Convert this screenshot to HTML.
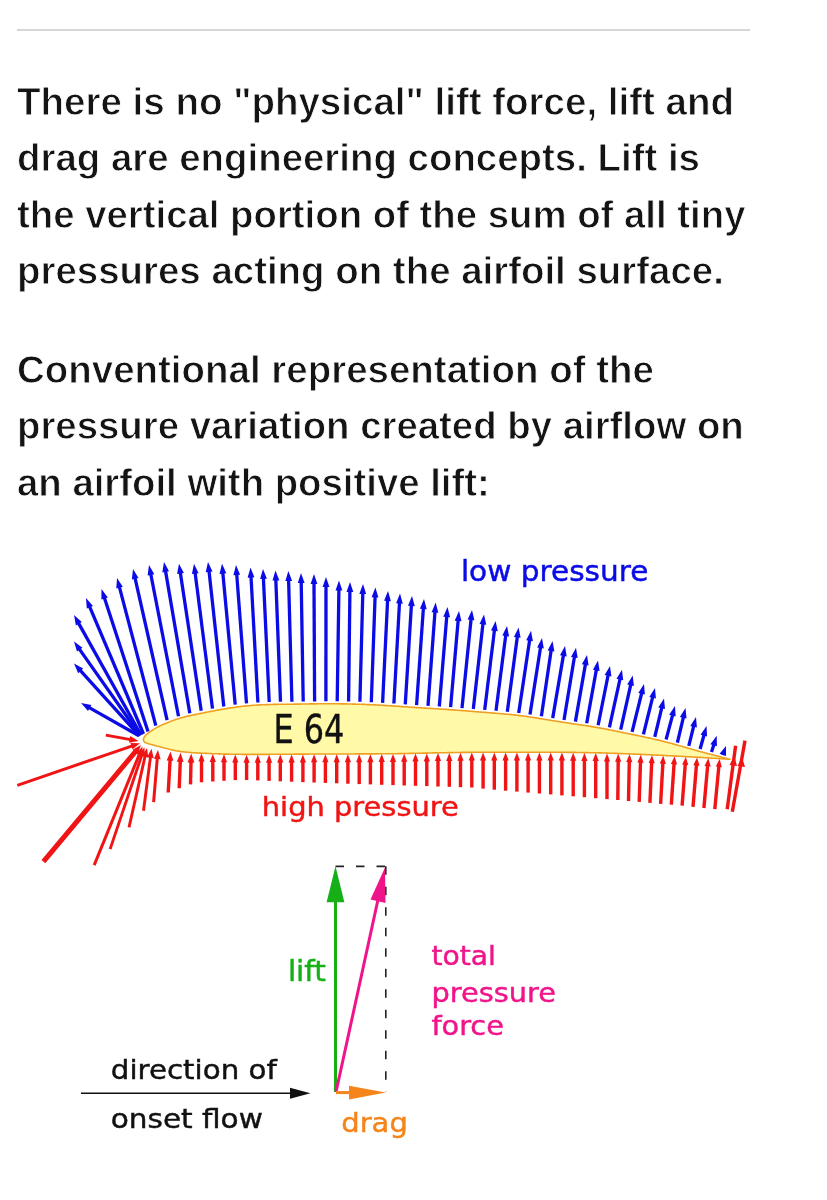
<!DOCTYPE html>
<html><head><meta charset="utf-8"><title>Lift</title>
<style>
html,body{margin:0;padding:0;background:#fff}
body{width:827px;height:1200px;position:relative;overflow:hidden;font-family:"Liberation Sans",sans-serif}
.hr{position:absolute;left:17px;top:28.6px;width:733px;height:2.4px;background:#d6d6d6}
.ln{position:absolute;left:17.1px;white-space:nowrap;font-size:38.2px;font-weight:bold;line-height:56.5px;height:56.5px;color:#141414;
 letter-spacing:0.0px;transform-origin:0 50%;will-change:transform;-webkit-text-stroke:0.85px #fff;}
svg{position:absolute;left:0;top:0}
svg text{font-family:"DejaVu Sans","Liberation Sans",sans-serif}
</style></head><body>
<div class="hr"></div>
<div class="ln" style="top:73.5px;transform:scaleX(1.0085)">There is no &quot;physical&quot; lift force, lift and</div>
<div class="ln" style="top:130.0px;transform:scaleX(1.0057)">drag are engineering concepts. Lift is</div>
<div class="ln" style="top:186.5px;transform:scaleX(1.0039)">the vertical portion of the sum of all tiny</div>
<div class="ln" style="top:243.0px;transform:scaleX(1.0063)">pressures acting on the airfoil surface.</div>
<div class="ln" style="top:341.6px;transform:scaleX(1.0073)">Conventional representation of the</div>
<div class="ln" style="top:398.1px;transform:scaleX(1.0043)">pressure variation created by airflow on</div>
<div class="ln" style="top:454.6px;transform:scaleX(1.0038)">an airfoil with positive lift:</div>
<svg width="827" height="1200" viewBox="0 0 827 1200">
<path d="M143.3 739.8 L143.6 738.8 L143.9 737.9 L144.3 737.0 L144.9 736.2 L145.6 735.4 L146.3 734.7 L147.1 734.0 L147.8 733.4 L148.6 732.8 L149.4 732.2 L150.2 731.6 L151.1 731.1 L151.9 730.5 L152.8 730.0 L153.6 729.4 L154.5 728.9 L155.3 728.4 L156.2 727.9 L157.1 727.4 L157.9 726.9 L158.8 726.5 L159.7 726.0 L160.6 725.6 L161.5 725.1 L162.4 724.7 L163.4 724.3 L164.3 723.9 L165.2 723.5 L166.1 723.2 L167.1 722.8 L168.0 722.4 L168.9 722.0 L169.9 721.7 L170.8 721.3 L171.7 721.0 L172.7 720.6 L173.6 720.3 L174.6 719.9 L175.5 719.6 L176.5 719.3 L177.4 719.0 L178.4 718.7 L179.3 718.4 L180.3 718.1 L181.3 717.8 L182.2 717.6 L183.2 717.3 L184.2 717.1 L185.1 716.8 L186.1 716.6 L187.1 716.3 L188.0 716.1 L189.0 715.9 L190.0 715.6 L191.0 715.4 L192.0 715.2 L192.9 715.0 L193.9 714.8 L194.9 714.6 L195.9 714.4 L196.9 714.2 L197.8 714.0 L198.8 713.8 L199.8 713.6 L200.8 713.4 L201.8 713.2 L202.8 713.0 L203.7 712.8 L204.7 712.6 L205.7 712.4 L206.7 712.2 L207.7 712.0 L208.7 711.8 L209.6 711.6 L210.6 711.4 L211.6 711.2 L212.6 711.0 L213.6 710.9 L214.6 710.7 L215.5 710.5 L216.5 710.3 L217.5 710.1 L218.5 709.9 L219.5 709.8 L220.5 709.6 L221.5 709.4 L222.4 709.2 L223.4 709.1 L224.4 708.9 L225.4 708.7 L226.4 708.6 L227.4 708.4 L228.4 708.2 L229.4 708.1 L230.4 707.9 L231.3 707.8 L232.3 707.6 L233.3 707.5 L234.3 707.4 L235.3 707.2 L236.3 707.1 L237.3 706.9 L238.3 706.8 L239.3 706.7 L240.3 706.6 L241.3 706.5 L242.3 706.3 L243.3 706.2 L244.3 706.1 L245.3 706.0 L246.3 705.9 L247.3 705.8 L248.3 705.7 L249.3 705.7 L250.2 705.6 L251.2 705.5 L252.2 705.4 L253.2 705.3 L254.2 705.3 L255.2 705.2 L256.2 705.1 L257.2 705.1 L258.2 705.0 L259.2 704.9 L260.2 704.9 L261.2 704.8 L262.2 704.8 L263.2 704.7 L264.3 704.7 L265.3 704.7 L266.3 704.6 L267.3 704.6 L268.3 704.6 L269.3 704.5 L270.3 704.5 L271.3 704.5 L272.3 704.5 L273.3 704.4 L274.3 704.4 L275.3 704.4 L276.3 704.4 L277.3 704.4 L278.3 704.3 L279.3 704.3 L280.3 704.3 L281.3 704.3 L282.3 704.3 L283.3 704.3 L284.3 704.3 L285.3 704.3 L286.3 704.2 L287.3 704.2 L288.3 704.2 L289.3 704.2 L290.3 704.2 L291.3 704.2 L292.3 704.2 L293.3 704.2 L294.3 704.1 L295.3 704.1 L296.3 704.1 L297.3 704.1 L298.3 704.1 L299.3 704.1 L300.3 704.1 L301.3 704.0 L302.3 704.0 L303.3 704.0 L304.3 704.0 L305.3 704.0 L306.3 704.0 L307.3 704.0 L308.3 704.0 L309.3 703.9 L310.3 703.9 L311.3 703.9 L312.3 703.9 L313.3 703.9 L314.3 703.9 L315.3 703.9 L316.3 703.9 L317.3 703.8 L318.3 703.8 L319.4 703.8 L320.4 703.8 L321.4 703.8 L322.4 703.8 L323.4 703.8 L324.4 703.8 L325.4 703.8 L326.4 703.8 L327.4 703.8 L328.4 703.8 L329.4 703.8 L330.4 703.8 L331.4 703.8 L332.4 703.8 L333.4 703.8 L334.4 703.8 L335.4 703.8 L336.4 703.8 L337.4 703.8 L338.4 703.8 L339.4 703.8 L340.4 703.9 L341.4 703.9 L342.4 703.9 L343.4 703.9 L344.4 703.9 L345.4 703.9 L346.4 703.9 L347.4 704.0 L348.4 704.0 L349.4 704.0 L350.4 704.0 L351.4 704.0 L352.4 704.1 L353.4 704.1 L354.4 704.1 L355.4 704.1 L356.4 704.2 L357.4 704.2 L358.4 704.2 L359.4 704.3 L360.4 704.3 L361.4 704.3 L362.4 704.4 L363.4 704.4 L364.4 704.4 L365.4 704.5 L366.4 704.5 L367.4 704.6 L368.4 704.6 L369.4 704.6 L370.4 704.7 L371.4 704.7 L372.4 704.8 L373.4 704.8 L374.4 704.9 L375.4 704.9 L376.4 705.0 L377.4 705.0 L378.4 705.1 L379.4 705.1 L380.4 705.2 L381.4 705.3 L382.4 705.3 L383.4 705.4 L384.4 705.4 L385.4 705.5 L386.4 705.6 L387.4 705.6 L388.4 705.7 L389.4 705.7 L390.4 705.8 L391.4 705.9 L392.4 705.9 L393.4 706.0 L394.4 706.1 L395.4 706.1 L396.4 706.2 L397.4 706.3 L398.4 706.3 L399.4 706.4 L400.4 706.5 L401.4 706.6 L402.4 706.6 L403.4 706.7 L404.4 706.8 L405.4 706.8 L406.4 706.9 L407.4 707.0 L408.4 707.0 L409.4 707.1 L410.4 707.2 L411.4 707.2 L412.4 707.3 L413.4 707.4 L414.4 707.4 L415.4 707.5 L416.4 707.6 L417.4 707.6 L418.4 707.7 L419.4 707.8 L420.4 707.8 L421.4 707.9 L422.4 708.0 L423.4 708.0 L424.4 708.1 L425.4 708.1 L426.4 708.2 L427.4 708.3 L428.4 708.3 L429.4 708.4 L430.4 708.4 L431.4 708.5 L432.4 708.5 L433.4 708.6 L434.4 708.7 L435.4 708.7 L436.4 708.8 L437.4 708.8 L438.4 708.9 L439.4 709.0 L440.4 709.0 L441.4 709.1 L442.4 709.2 L443.4 709.2 L444.4 709.3 L445.4 709.4 L446.4 709.4 L447.4 709.5 L448.4 709.6 L449.4 709.6 L450.4 709.7 L451.4 709.8 L452.4 709.9 L453.4 709.9 L454.4 710.0 L455.4 710.1 L456.4 710.2 L457.4 710.2 L458.4 710.3 L459.4 710.4 L460.4 710.5 L461.4 710.5 L462.4 710.6 L463.4 710.7 L464.4 710.8 L465.4 710.8 L466.4 710.9 L467.4 711.0 L468.4 711.1 L469.4 711.2 L470.4 711.2 L471.4 711.3 L472.4 711.4 L473.4 711.5 L474.4 711.6 L475.4 711.6 L476.4 711.7 L477.4 711.8 L478.4 711.9 L479.4 712.0 L480.4 712.0 L481.4 712.1 L482.4 712.2 L483.4 712.3 L484.4 712.3 L485.4 712.4 L486.4 712.5 L487.4 712.6 L488.4 712.7 L489.4 712.7 L490.4 712.8 L491.4 712.9 L492.4 713.0 L493.4 713.1 L494.4 713.1 L495.4 713.2 L496.4 713.3 L497.4 713.4 L498.4 713.5 L499.4 713.5 L500.4 713.6 L501.4 713.7 L502.4 713.8 L503.4 713.9 L504.4 714.0 L505.4 714.1 L506.4 714.2 L507.4 714.3 L508.4 714.3 L509.4 714.4 L510.4 714.5 L511.4 714.6 L512.4 714.7 L513.3 714.8 L514.3 714.9 L515.3 715.1 L516.3 715.2 L517.3 715.3 L518.3 715.4 L519.3 715.5 L520.3 715.6 L521.3 715.8 L522.3 715.9 L523.3 716.0 L524.3 716.2 L525.3 716.3 L526.3 716.4 L527.3 716.6 L528.3 716.7 L529.2 716.9 L530.2 717.0 L531.2 717.2 L532.2 717.3 L533.2 717.5 L534.2 717.6 L535.2 717.8 L536.2 717.9 L537.2 718.1 L538.2 718.2 L539.1 718.4 L540.1 718.6 L541.1 718.7 L542.1 718.9 L543.1 719.0 L544.1 719.2 L545.1 719.4 L546.1 719.5 L547.1 719.7 L548.0 719.9 L549.0 720.0 L550.0 720.2 L551.0 720.3 L552.0 720.5 L553.0 720.7 L554.0 720.8 L555.0 721.0 L556.0 721.2 L556.9 721.3 L557.9 721.5 L558.9 721.6 L559.9 721.8 L560.9 721.9 L561.9 722.1 L562.9 722.2 L563.9 722.4 L564.9 722.5 L565.9 722.7 L566.9 722.8 L567.8 723.0 L568.8 723.1 L569.8 723.3 L570.8 723.4 L571.8 723.6 L572.8 723.7 L573.8 723.9 L574.8 724.0 L575.8 724.2 L576.8 724.3 L577.8 724.5 L578.8 724.6 L579.7 724.7 L580.7 724.9 L581.7 725.0 L582.7 725.2 L583.7 725.3 L584.7 725.5 L585.7 725.6 L586.7 725.8 L587.7 725.9 L588.7 726.1 L589.6 726.3 L590.6 726.4 L591.6 726.6 L592.6 726.7 L593.6 726.9 L594.6 727.1 L595.6 727.2 L596.6 727.4 L597.6 727.6 L598.5 727.7 L599.5 727.9 L600.5 728.1 L601.5 728.3 L602.5 728.5 L603.5 728.6 L604.4 728.8 L605.4 729.0 L606.4 729.2 L607.4 729.4 L608.4 729.6 L609.4 729.8 L610.3 730.0 L611.3 730.2 L612.3 730.4 L613.3 730.6 L614.3 730.8 L615.3 731.0 L616.2 731.2 L617.2 731.4 L618.2 731.6 L619.2 731.8 L620.2 732.0 L621.1 732.2 L622.1 732.4 L623.1 732.6 L624.1 732.8 L625.1 733.0 L626.1 733.2 L627.0 733.4 L628.0 733.6 L629.0 733.8 L630.0 734.0 L631.0 734.2 L631.9 734.4 L632.9 734.6 L633.9 734.8 L634.9 735.0 L635.9 735.2 L636.9 735.4 L637.8 735.6 L638.8 735.8 L639.8 736.0 L640.8 736.2 L641.8 736.4 L642.7 736.6 L643.7 736.8 L644.7 737.1 L645.7 737.3 L646.7 737.5 L647.6 737.7 L648.6 737.9 L649.6 738.1 L650.6 738.3 L651.6 738.5 L652.5 738.8 L653.5 739.0 L654.5 739.2 L655.5 739.4 L656.4 739.7 L657.4 739.9 L658.4 740.1 L659.4 740.3 L660.3 740.6 L661.3 740.8 L662.3 741.1 L663.3 741.3 L664.2 741.6 L665.2 741.8 L666.2 742.1 L667.1 742.3 L668.1 742.6 L669.1 742.8 L670.0 743.1 L671.0 743.3 L672.0 743.6 L672.9 743.9 L673.9 744.1 L674.9 744.4 L675.8 744.7 L676.8 744.9 L677.8 745.2 L678.7 745.5 L679.7 745.7 L680.7 746.0 L681.6 746.3 L682.6 746.5 L683.6 746.8 L684.5 747.1 L685.5 747.4 L686.4 747.6 L687.4 747.9 L688.4 748.2 L689.3 748.5 L690.3 748.7 L691.3 749.0 L692.2 749.3 L693.2 749.6 L694.2 749.8 L695.1 750.1 L696.1 750.4 L697.1 750.7 L698.0 750.9 L699.0 751.2 L699.9 751.5 L700.9 751.7 L701.9 752.0 L702.8 752.3 L703.8 752.5 L704.8 752.8 L705.7 753.0 L706.7 753.3 L707.7 753.6 L708.7 753.8 L709.6 754.1 L710.6 754.3 L711.6 754.6 L712.5 754.8 L713.5 755.1 L714.5 755.3 L715.4 755.6 L716.4 755.8 L717.4 756.1 L718.3 756.3 L719.3 756.6 L720.3 756.8 L721.3 757.1 L722.2 757.3 L723.2 757.6 L724.2 757.8 L725.1 758.1 L726.1 758.3 L727.1 758.6 L728.1 758.8 L729.0 759.1 L730.0 759.3 L730.0 759.3 L729.0 759.2 L728.0 759.2 L727.1 759.1 L726.1 759.0 L725.1 759.0 L724.1 758.9 L723.1 758.9 L722.1 758.8 L721.2 758.7 L720.2 758.7 L719.2 758.6 L718.2 758.5 L717.2 758.5 L716.2 758.4 L715.3 758.3 L714.3 758.3 L713.3 758.2 L712.3 758.2 L711.3 758.1 L710.4 758.0 L709.4 758.0 L708.4 757.9 L707.4 757.9 L706.4 757.8 L705.4 757.7 L704.5 757.7 L703.5 757.6 L702.5 757.5 L701.5 757.5 L700.5 757.4 L699.5 757.4 L698.6 757.3 L697.6 757.3 L696.6 757.2 L695.6 757.1 L694.6 757.1 L693.7 757.0 L692.7 757.0 L691.7 756.9 L690.7 756.9 L689.7 756.8 L688.7 756.8 L687.8 756.7 L686.8 756.6 L685.8 756.6 L684.8 756.5 L683.8 756.5 L682.8 756.4 L681.9 756.4 L680.9 756.3 L679.9 756.3 L678.9 756.2 L677.9 756.2 L676.9 756.1 L676.0 756.1 L675.0 756.0 L674.0 756.0 L673.0 755.9 L672.0 755.9 L671.0 755.8 L670.1 755.8 L669.1 755.7 L668.1 755.7 L667.1 755.6 L666.1 755.6 L665.1 755.5 L664.2 755.5 L663.2 755.4 L662.2 755.4 L661.2 755.3 L660.2 755.3 L659.2 755.2 L658.3 755.2 L657.3 755.1 L656.3 755.1 L655.3 755.0 L654.3 755.0 L653.3 755.0 L652.4 754.9 L651.4 754.9 L650.4 754.8 L649.4 754.8 L648.4 754.7 L647.4 754.7 L646.5 754.6 L645.5 754.6 L644.5 754.5 L643.5 754.5 L642.5 754.5 L641.5 754.4 L640.6 754.4 L639.6 754.3 L638.6 754.3 L637.6 754.2 L636.6 754.2 L635.6 754.2 L634.7 754.1 L633.7 754.1 L632.7 754.0 L631.7 754.0 L630.7 754.0 L629.7 753.9 L628.8 753.9 L627.8 753.8 L626.8 753.8 L625.8 753.8 L624.8 753.7 L623.8 753.7 L622.9 753.6 L621.9 753.6 L620.9 753.6 L619.9 753.5 L618.9 753.5 L617.9 753.5 L617.0 753.4 L616.0 753.4 L615.0 753.4 L614.0 753.3 L613.0 753.3 L612.0 753.3 L611.1 753.2 L610.1 753.2 L609.1 753.2 L608.1 753.1 L607.1 753.1 L606.1 753.1 L605.2 753.0 L604.2 753.0 L603.2 753.0 L602.2 753.0 L601.2 752.9 L600.2 752.9 L599.3 752.9 L598.3 752.9 L597.3 752.8 L596.3 752.8 L595.3 752.8 L594.3 752.8 L593.3 752.7 L592.4 752.7 L591.4 752.7 L590.4 752.7 L589.4 752.7 L588.4 752.6 L587.4 752.6 L586.5 752.6 L585.5 752.6 L584.5 752.6 L583.5 752.6 L582.5 752.5 L581.5 752.5 L580.6 752.5 L579.6 752.5 L578.6 752.5 L577.6 752.5 L576.6 752.5 L575.6 752.4 L574.7 752.4 L573.7 752.4 L572.7 752.4 L571.7 752.4 L570.7 752.4 L569.7 752.4 L568.7 752.4 L567.8 752.4 L566.8 752.3 L565.8 752.3 L564.8 752.3 L563.8 752.3 L562.8 752.3 L561.9 752.3 L560.9 752.3 L559.9 752.3 L558.9 752.3 L557.9 752.3 L556.9 752.3 L555.9 752.3 L555.0 752.3 L554.0 752.3 L553.0 752.3 L552.0 752.2 L551.0 752.2 L550.0 752.2 L549.1 752.2 L548.1 752.2 L547.1 752.2 L546.1 752.2 L545.1 752.2 L544.1 752.2 L543.2 752.2 L542.2 752.2 L541.2 752.2 L540.2 752.2 L539.2 752.2 L538.2 752.2 L537.2 752.2 L536.3 752.2 L535.3 752.2 L534.3 752.2 L533.3 752.2 L532.3 752.2 L531.3 752.2 L530.4 752.2 L529.4 752.2 L528.4 752.2 L527.4 752.2 L526.4 752.2 L525.4 752.2 L524.4 752.2 L523.5 752.2 L522.5 752.2 L521.5 752.2 L520.5 752.2 L519.5 752.2 L518.5 752.2 L517.6 752.2 L516.6 752.2 L515.6 752.2 L514.6 752.2 L513.6 752.2 L512.6 752.2 L511.7 752.2 L510.7 752.2 L509.7 752.2 L508.7 752.2 L507.7 752.2 L506.7 752.2 L505.7 752.2 L504.8 752.2 L503.8 752.2 L502.8 752.2 L501.8 752.2 L500.8 752.2 L499.8 752.2 L498.9 752.2 L497.9 752.2 L496.9 752.2 L495.9 752.2 L494.9 752.2 L493.9 752.2 L492.9 752.2 L492.0 752.2 L491.0 752.2 L490.0 752.2 L489.0 752.2 L488.0 752.2 L487.0 752.2 L486.1 752.3 L485.1 752.3 L484.1 752.3 L483.1 752.3 L482.1 752.3 L481.1 752.3 L480.2 752.3 L479.2 752.3 L478.2 752.3 L477.2 752.3 L476.2 752.3 L475.2 752.3 L474.2 752.3 L473.3 752.3 L472.3 752.3 L471.3 752.3 L470.3 752.4 L469.3 752.4 L468.3 752.4 L467.4 752.4 L466.4 752.4 L465.4 752.4 L464.4 752.4 L463.4 752.4 L462.4 752.4 L461.5 752.4 L460.5 752.5 L459.5 752.5 L458.5 752.5 L457.5 752.5 L456.5 752.5 L455.5 752.5 L454.6 752.5 L453.6 752.5 L452.6 752.6 L451.6 752.6 L450.6 752.6 L449.6 752.6 L448.7 752.6 L447.7 752.6 L446.7 752.7 L445.7 752.7 L444.7 752.7 L443.7 752.7 L442.8 752.7 L441.8 752.7 L440.8 752.8 L439.8 752.8 L438.8 752.8 L437.8 752.8 L436.8 752.8 L435.9 752.9 L434.9 752.9 L433.9 752.9 L432.9 752.9 L431.9 753.0 L430.9 753.0 L430.0 753.0 L429.0 753.0 L428.0 753.0 L427.0 753.1 L426.0 753.1 L425.0 753.1 L424.1 753.1 L423.1 753.1 L422.1 753.2 L421.1 753.2 L420.1 753.2 L419.1 753.2 L418.2 753.3 L417.2 753.3 L416.2 753.3 L415.2 753.3 L414.2 753.3 L413.2 753.4 L412.2 753.4 L411.3 753.4 L410.3 753.4 L409.3 753.4 L408.3 753.5 L407.3 753.5 L406.3 753.5 L405.4 753.5 L404.4 753.5 L403.4 753.5 L402.4 753.6 L401.4 753.6 L400.4 753.6 L399.5 753.6 L398.5 753.6 L397.5 753.6 L396.5 753.7 L395.5 753.7 L394.5 753.7 L393.5 753.7 L392.6 753.7 L391.6 753.7 L390.6 753.7 L389.6 753.7 L388.6 753.8 L387.6 753.8 L386.7 753.8 L385.7 753.8 L384.7 753.8 L383.7 753.8 L382.7 753.8 L381.7 753.8 L380.8 753.8 L379.8 753.8 L378.8 753.8 L377.8 753.9 L376.8 753.9 L375.8 753.9 L374.8 753.9 L373.9 753.9 L372.9 753.9 L371.9 753.9 L370.9 753.9 L369.9 753.9 L368.9 753.9 L368.0 753.9 L367.0 753.9 L366.0 753.9 L365.0 753.9 L364.0 753.9 L363.0 753.9 L362.1 753.9 L361.1 753.9 L360.1 753.9 L359.1 753.9 L358.1 753.9 L357.1 753.9 L356.1 753.9 L355.2 754.0 L354.2 754.0 L353.2 754.0 L352.2 754.0 L351.2 754.0 L350.2 754.0 L349.3 754.0 L348.3 754.0 L347.3 754.0 L346.3 754.0 L345.3 754.0 L344.3 754.0 L343.3 754.0 L342.4 754.0 L341.4 754.0 L340.4 754.0 L339.4 754.0 L338.4 754.0 L337.4 754.0 L336.5 754.0 L335.5 754.0 L334.5 754.0 L333.5 754.0 L332.5 754.0 L331.5 754.0 L330.6 754.0 L329.6 754.0 L328.6 754.0 L327.6 754.0 L326.6 754.0 L325.6 754.0 L324.6 754.0 L323.7 754.0 L322.7 754.0 L321.7 754.0 L320.7 754.0 L319.7 754.0 L318.7 754.0 L317.8 754.0 L316.8 754.0 L315.8 754.0 L314.8 754.0 L313.8 754.0 L312.8 754.0 L311.9 754.0 L310.9 754.0 L309.9 754.0 L308.9 754.0 L307.9 754.1 L306.9 754.1 L305.9 754.1 L305.0 754.1 L304.0 754.1 L303.0 754.1 L302.0 754.1 L301.0 754.1 L300.0 754.1 L299.1 754.1 L298.1 754.1 L297.1 754.1 L296.1 754.1 L295.1 754.1 L294.1 754.1 L293.2 754.2 L292.2 754.2 L291.2 754.2 L290.2 754.2 L289.2 754.2 L288.2 754.2 L287.2 754.2 L286.3 754.2 L285.3 754.2 L284.3 754.2 L283.3 754.2 L282.3 754.2 L281.3 754.3 L280.4 754.3 L279.4 754.3 L278.4 754.3 L277.4 754.3 L276.4 754.3 L275.4 754.3 L274.5 754.3 L273.5 754.3 L272.5 754.3 L271.5 754.3 L270.5 754.3 L269.5 754.4 L268.5 754.4 L267.6 754.4 L266.6 754.4 L265.6 754.4 L264.6 754.4 L263.6 754.4 L262.6 754.4 L261.7 754.4 L260.7 754.4 L259.7 754.4 L258.7 754.4 L257.7 754.4 L256.7 754.4 L255.7 754.4 L254.8 754.4 L253.8 754.4 L252.8 754.4 L251.8 754.4 L250.8 754.4 L249.8 754.4 L248.9 754.4 L247.9 754.4 L246.9 754.4 L245.9 754.4 L244.9 754.4 L243.9 754.4 L242.9 754.4 L242.0 754.4 L241.0 754.3 L240.0 754.3 L239.0 754.3 L238.0 754.3 L237.0 754.3 L236.1 754.3 L235.1 754.3 L234.1 754.3 L233.1 754.2 L232.1 754.2 L231.1 754.2 L230.2 754.2 L229.2 754.2 L228.2 754.1 L227.2 754.1 L226.2 754.1 L225.2 754.1 L224.2 754.1 L223.3 754.0 L222.3 754.0 L221.3 754.0 L220.3 753.9 L219.3 753.9 L218.3 753.9 L217.4 753.8 L216.4 753.8 L215.4 753.8 L214.4 753.7 L213.4 753.7 L212.4 753.7 L211.5 753.6 L210.5 753.6 L209.5 753.5 L208.5 753.5 L207.5 753.5 L206.5 753.4 L205.6 753.4 L204.6 753.3 L203.6 753.3 L202.6 753.2 L201.6 753.2 L200.7 753.1 L199.7 753.1 L198.7 753.0 L197.7 753.0 L196.7 752.9 L195.7 752.8 L194.7 752.8 L193.8 752.7 L192.8 752.7 L191.8 752.6 L190.8 752.5 L189.8 752.5 L188.8 752.4 L187.9 752.3 L186.9 752.2 L185.9 752.1 L184.9 752.0 L183.9 751.9 L183.0 751.8 L182.0 751.7 L181.0 751.6 L180.0 751.4 L179.1 751.3 L178.1 751.1 L177.1 751.0 L176.2 750.8 L175.2 750.6 L174.2 750.4 L173.3 750.2 L172.3 749.9 L171.3 749.7 L170.4 749.5 L169.4 749.3 L168.5 749.0 L167.5 748.8 L166.6 748.5 L165.6 748.3 L164.7 748.0 L163.7 747.8 L162.8 747.5 L161.8 747.3 L160.9 747.0 L159.9 746.8 L159.0 746.5 L158.0 746.3 L157.0 746.1 L156.1 745.8 L155.1 745.6 L154.2 745.3 L153.2 745.1 L152.3 744.8 L151.3 744.6 L150.4 744.3 L149.4 744.0 L148.5 743.7 L147.6 743.4 L146.7 743.1 L145.7 742.7 L144.8 742.2 L144.1 741.6 L143.6 740.8 L143.3 739.8 Z" fill="#fff9a8" stroke="#f0a020" stroke-width="1.6" stroke-linejoin="round"/>
<line x1="138.5" y1="735.5" x2="88.8" y2="707.4" stroke="#0b0be6" stroke-width="3.3"/><polygon points="81.0,703.0 91.4,705.0 88.0,710.9" fill="#0b0be6"/>
<line x1="139.5" y1="735.8" x2="80.0" y2="670.2" stroke="#0b0be6" stroke-width="3.3"/><polygon points="74.0,663.5 83.2,668.6 78.2,673.2" fill="#0b0be6"/>
<line x1="140.3" y1="735.5" x2="79.2" y2="648.9" stroke="#0b0be6" stroke-width="3.3"/><polygon points="74.0,641.5 82.5,647.7 77.0,651.6" fill="#0b0be6"/>
<line x1="141.0" y1="735.0" x2="78.4" y2="622.9" stroke="#0b0be6" stroke-width="3.3"/><polygon points="74.0,615.0 81.8,622.1 75.9,625.4" fill="#0b0be6"/>
<line x1="143.5" y1="734.0" x2="89.5" y2="606.3" stroke="#0b0be6" stroke-width="3.3"/><polygon points="86.0,598.0 93.0,605.9 86.8,608.5" fill="#0b0be6"/>
<line x1="148.0" y1="731.5" x2="104.3" y2="597.6" stroke="#0b0be6" stroke-width="3.3"/><polygon points="101.5,589.0 107.8,597.5 101.4,599.6" fill="#0b0be6"/>
<line x1="155.8" y1="725.6" x2="119.3" y2="586.7" stroke="#0b0be6" stroke-width="3.3"/><polygon points="117.0,578.0 122.8,586.8 116.3,588.5" fill="#0b0be6"/>
<line x1="167.1" y1="720.2" x2="135.0" y2="577.8" stroke="#0b0be6" stroke-width="3.3"/><polygon points="133.0,569.0 138.5,578.0 131.9,579.5" fill="#0b0be6"/>
<line x1="178.5" y1="716.2" x2="150.7" y2="573.8" stroke="#0b0be6" stroke-width="3.3"/><polygon points="149.0,565.0 154.3,574.2 147.6,575.5" fill="#0b0be6"/>
<line x1="189.8" y1="713.2" x2="165.5" y2="570.9" stroke="#0b0be6" stroke-width="3.3"/><polygon points="164.0,562.0 169.0,571.3 162.3,572.4" fill="#0b0be6"/>
<line x1="201.2" y1="710.8" x2="180.3" y2="572.6" stroke="#0b0be6" stroke-width="3.3"/><polygon points="179.0,563.7 183.9,573.1 177.1,574.1" fill="#0b0be6"/>
<line x1="212.5" y1="708.6" x2="195.1" y2="572.6" stroke="#0b0be6" stroke-width="3.3"/><polygon points="194.0,563.7 198.6,573.2 191.9,574.1" fill="#0b0be6"/>
<line x1="223.8" y1="706.5" x2="209.0" y2="570.9" stroke="#0b0be6" stroke-width="3.3"/><polygon points="208.0,562.0 212.5,571.6 205.7,572.3" fill="#0b0be6"/>
<line x1="235.2" y1="704.7" x2="222.8" y2="572.7" stroke="#0b0be6" stroke-width="3.3"/><polygon points="222.0,563.7 226.3,573.3 219.5,574.0" fill="#0b0be6"/>
<line x1="246.5" y1="703.4" x2="236.7" y2="574.0" stroke="#0b0be6" stroke-width="3.3"/><polygon points="236.0,565.0 240.1,574.7 233.4,575.2" fill="#0b0be6"/>
<line x1="257.9" y1="702.5" x2="251.0" y2="576.5" stroke="#0b0be6" stroke-width="3.3"/><polygon points="250.5,567.5 254.4,577.3 247.6,577.7" fill="#0b0be6"/>
<line x1="269.2" y1="702.0" x2="263.4" y2="578.0" stroke="#0b0be6" stroke-width="3.3"/><polygon points="263.0,569.0 266.9,578.8 260.1,579.1" fill="#0b0be6"/>
<line x1="280.5" y1="701.8" x2="275.8" y2="579.5" stroke="#0b0be6" stroke-width="3.3"/><polygon points="275.5,570.5 279.3,580.4 272.5,580.6" fill="#0b0be6"/>
<line x1="291.9" y1="701.7" x2="288.6" y2="580.0" stroke="#0b0be6" stroke-width="3.3"/><polygon points="288.4,571.0 292.1,580.9 285.3,581.1" fill="#0b0be6"/>
<line x1="303.2" y1="701.5" x2="301.2" y2="582.0" stroke="#0b0be6" stroke-width="3.3"/><polygon points="301.0,573.0 304.6,582.9 297.8,583.1" fill="#0b0be6"/>
<line x1="314.6" y1="701.4" x2="314.0" y2="583.0" stroke="#0b0be6" stroke-width="3.3"/><polygon points="314.0,574.0 317.4,584.0 310.6,584.0" fill="#0b0be6"/>
<line x1="325.9" y1="701.3" x2="326.0" y2="586.0" stroke="#0b0be6" stroke-width="3.3"/><polygon points="326.0,577.0 329.4,587.0 322.6,587.0" fill="#0b0be6"/>
<line x1="337.2" y1="701.3" x2="338.9" y2="589.6" stroke="#0b0be6" stroke-width="3.3"/><polygon points="339.0,580.6 342.3,590.6 335.5,590.5" fill="#0b0be6"/>
<line x1="348.6" y1="701.5" x2="349.9" y2="591.0" stroke="#0b0be6" stroke-width="3.3"/><polygon points="350.0,582.0 353.3,592.0 346.5,592.0" fill="#0b0be6"/>
<line x1="359.9" y1="701.8" x2="362.8" y2="593.0" stroke="#0b0be6" stroke-width="3.3"/><polygon points="363.0,584.0 366.1,594.1 359.3,593.9" fill="#0b0be6"/>
<line x1="371.3" y1="702.2" x2="375.1" y2="596.4" stroke="#0b0be6" stroke-width="3.3"/><polygon points="375.4,587.4 378.4,597.5 371.6,597.3" fill="#0b0be6"/>
<line x1="382.6" y1="702.8" x2="387.6" y2="600.0" stroke="#0b0be6" stroke-width="3.3"/><polygon points="388.0,591.0 390.9,601.2 384.1,600.8" fill="#0b0be6"/>
<line x1="393.9" y1="703.5" x2="399.5" y2="602.5" stroke="#0b0be6" stroke-width="3.3"/><polygon points="400.0,593.5 402.8,603.7 396.1,603.3" fill="#0b0be6"/>
<line x1="405.3" y1="704.3" x2="411.4" y2="605.0" stroke="#0b0be6" stroke-width="3.3"/><polygon points="412.0,596.0 414.8,606.2 408.0,605.8" fill="#0b0be6"/>
<line x1="416.6" y1="705.1" x2="423.4" y2="608.0" stroke="#0b0be6" stroke-width="3.3"/><polygon points="424.0,599.0 426.7,609.2 419.9,608.7" fill="#0b0be6"/>
<line x1="428.0" y1="705.8" x2="435.0" y2="611.6" stroke="#0b0be6" stroke-width="3.3"/><polygon points="435.7,602.6 438.3,612.8 431.6,612.3" fill="#0b0be6"/>
<line x1="439.3" y1="706.5" x2="446.8" y2="616.0" stroke="#0b0be6" stroke-width="3.3"/><polygon points="447.5,607.0 450.1,617.2 443.3,616.7" fill="#0b0be6"/>
<line x1="450.6" y1="707.2" x2="458.2" y2="620.0" stroke="#0b0be6" stroke-width="3.3"/><polygon points="459.0,611.0 461.5,621.3 454.7,620.7" fill="#0b0be6"/>
<line x1="462.0" y1="708.1" x2="471.1" y2="619.0" stroke="#0b0be6" stroke-width="3.3"/><polygon points="472.0,610.0 474.4,620.3 467.6,619.6" fill="#0b0be6"/>
<line x1="473.3" y1="709.0" x2="483.0" y2="623.4" stroke="#0b0be6" stroke-width="3.3"/><polygon points="484.0,614.5 486.3,624.8 479.5,624.1" fill="#0b0be6"/>
<line x1="484.7" y1="709.9" x2="494.5" y2="629.9" stroke="#0b0be6" stroke-width="3.3"/><polygon points="495.6,621.0 497.8,631.3 491.0,630.5" fill="#0b0be6"/>
<line x1="496.0" y1="710.8" x2="505.8" y2="634.9" stroke="#0b0be6" stroke-width="3.3"/><polygon points="507.0,626.0 509.1,636.4 502.3,635.5" fill="#0b0be6"/>
<line x1="507.3" y1="711.7" x2="517.4" y2="636.3" stroke="#0b0be6" stroke-width="3.3"/><polygon points="518.6,627.4 520.6,637.8 513.9,636.9" fill="#0b0be6"/>
<line x1="518.7" y1="712.9" x2="529.7" y2="639.7" stroke="#0b0be6" stroke-width="3.3"/><polygon points="531.0,630.8 532.9,641.2 526.2,640.2" fill="#0b0be6"/>
<line x1="530.0" y1="714.5" x2="540.6" y2="646.9" stroke="#0b0be6" stroke-width="3.3"/><polygon points="542.0,638.0 543.8,648.4 537.1,647.4" fill="#0b0be6"/>
<line x1="541.4" y1="716.3" x2="551.2" y2="649.9" stroke="#0b0be6" stroke-width="3.3"/><polygon points="552.5,641.0 554.4,651.4 547.7,650.4" fill="#0b0be6"/>
<line x1="552.7" y1="718.1" x2="563.5" y2="654.9" stroke="#0b0be6" stroke-width="3.3"/><polygon points="565.0,646.0 566.7,656.4 560.0,655.3" fill="#0b0be6"/>
<line x1="564.0" y1="719.9" x2="574.5" y2="656.6" stroke="#0b0be6" stroke-width="3.3"/><polygon points="576.0,647.7 577.7,658.1 571.0,657.0" fill="#0b0be6"/>
<line x1="575.4" y1="721.6" x2="585.5" y2="663.9" stroke="#0b0be6" stroke-width="3.3"/><polygon points="587.0,655.0 588.6,665.4 581.9,664.3" fill="#0b0be6"/>
<line x1="586.7" y1="723.3" x2="596.4" y2="669.5" stroke="#0b0be6" stroke-width="3.3"/><polygon points="598.0,660.6 599.6,671.0 592.9,669.8" fill="#0b0be6"/>
<line x1="598.1" y1="725.2" x2="608.2" y2="674.8" stroke="#0b0be6" stroke-width="3.3"/><polygon points="610.0,666.0 611.4,676.5 604.7,675.1" fill="#0b0be6"/>
<line x1="609.4" y1="727.3" x2="620.1" y2="678.5" stroke="#0b0be6" stroke-width="3.3"/><polygon points="622.0,669.7 623.2,680.2 616.5,678.7" fill="#0b0be6"/>
<line x1="620.7" y1="729.6" x2="630.8" y2="684.3" stroke="#0b0be6" stroke-width="3.3"/><polygon points="632.7,675.5 633.9,686.0 627.2,684.5" fill="#0b0be6"/>
<line x1="632.1" y1="731.9" x2="641.8" y2="692.7" stroke="#0b0be6" stroke-width="3.3"/><polygon points="644.0,684.0 644.9,694.5 638.3,692.9" fill="#0b0be6"/>
<line x1="643.4" y1="734.3" x2="652.8" y2="696.7" stroke="#0b0be6" stroke-width="3.3"/><polygon points="655.0,688.0 655.9,698.5 649.3,696.9" fill="#0b0be6"/>
<line x1="654.8" y1="736.8" x2="661.9" y2="707.2" stroke="#0b0be6" stroke-width="3.3"/><polygon points="664.0,698.5 665.0,709.0 658.3,707.4" fill="#0b0be6"/>
<line x1="666.1" y1="739.5" x2="672.7" y2="714.7" stroke="#0b0be6" stroke-width="3.3"/><polygon points="675.0,706.0 675.7,716.5 669.1,714.8" fill="#0b0be6"/>
<line x1="677.4" y1="742.6" x2="683.5" y2="716.8" stroke="#0b0be6" stroke-width="3.3"/><polygon points="685.5,708.0 686.5,718.5 679.9,717.0" fill="#0b0be6"/>
<line x1="688.8" y1="745.8" x2="693.8" y2="725.7" stroke="#0b0be6" stroke-width="3.3"/><polygon points="696.0,717.0 696.9,727.5 690.3,725.9" fill="#0b0be6"/>
<line x1="700.1" y1="749.0" x2="704.1" y2="734.7" stroke="#0b0be6" stroke-width="3.3"/><polygon points="706.5,726.0 707.1,736.5 700.6,734.7" fill="#0b0be6"/>
<line x1="711.5" y1="752.1" x2="714.0" y2="744.3" stroke="#0b0be6" stroke-width="3.3"/><polygon points="716.7,735.7 716.9,746.3 710.4,744.2" fill="#0b0be6"/>
<line x1="722.8" y1="755.0" x2="723.1" y2="754.0" stroke="#0b0be6" stroke-width="3.3"/><polygon points="726.0,746.0 726.0,756.1 719.6,753.8" fill="#0b0be6"/>
<line x1="105.8" y1="735.1" x2="130.6" y2="739.6" stroke="#f01414" stroke-width="2.9"/><polygon points="138.5,741.0 129.0,742.7 130.2,736.1" fill="#f01414"/>
<line x1="17.3" y1="785.3" x2="132.4" y2="745.8" stroke="#f01414" stroke-width="3.0"/><polygon points="140.0,743.2 132.6,749.3 130.4,742.9" fill="#f01414"/>
<line x1="43.4" y1="861.6" x2="135.9" y2="751.1" stroke="#f01414" stroke-width="5.0"/><polygon points="141.0,745.0 137.8,754.1 132.6,749.7" fill="#f01414"/>
<line x1="94.2" y1="865.1" x2="139.5" y2="753.9" stroke="#f01414" stroke-width="3.0"/><polygon points="142.5,746.5 142.3,756.1 136.0,753.6" fill="#f01414"/>
<line x1="110.1" y1="849.1" x2="141.9" y2="754.9" stroke="#f01414" stroke-width="2.9"/><polygon points="144.5,747.3 144.8,756.9 138.4,754.7" fill="#f01414"/>
<line x1="129.0" y1="827.4" x2="145.2" y2="755.8" stroke="#f01414" stroke-width="2.9"/><polygon points="147.0,748.0 148.3,757.5 141.7,756.0" fill="#f01414"/>
<line x1="143.5" y1="810.8" x2="150.5" y2="756.7" stroke="#f01414" stroke-width="2.9"/><polygon points="151.5,748.8 153.7,758.2 147.0,757.3" fill="#f01414"/>
<line x1="153.6" y1="802.1" x2="157.3" y2="758.0" stroke="#f01414" stroke-width="3.0"/><polygon points="158.0,750.0 160.6,759.3 153.9,758.7" fill="#f01414"/>
<line x1="168.2" y1="792.5" x2="170.1" y2="759.6" stroke="#f01414" stroke-width="3.4"/><polygon points="170.5,751.6 173.4,760.8 166.6,760.4" fill="#f01414"/>
<line x1="179.2" y1="788.2" x2="180.3" y2="760.8" stroke="#f01414" stroke-width="3.4"/><polygon points="180.6,752.8 183.6,761.9 176.8,761.7" fill="#f01414"/>
<line x1="190.5" y1="784.4" x2="191.0" y2="761.6" stroke="#f01414" stroke-width="3.4"/><polygon points="191.2,753.6 194.4,762.7 187.6,762.5" fill="#f01414"/>
<line x1="201.5" y1="782.3" x2="201.5" y2="760.5" stroke="#f01414" stroke-width="3.4"/><polygon points="201.5,753.5 204.6,761.5 198.4,761.5" fill="#f01414"/>
<line x1="212.8" y1="781.5" x2="212.8" y2="761.0" stroke="#f01414" stroke-width="3.4"/><polygon points="212.8,754.0 215.9,762.0 209.7,762.0" fill="#f01414"/>
<line x1="224.0" y1="780.8" x2="224.0" y2="761.3" stroke="#f01414" stroke-width="3.4"/><polygon points="224.0,754.3 227.1,762.3 220.9,762.3" fill="#f01414"/>
<line x1="235.3" y1="780.1" x2="235.3" y2="761.6" stroke="#f01414" stroke-width="3.4"/><polygon points="235.3,754.6 238.4,762.6 232.2,762.6" fill="#f01414"/>
<line x1="246.6" y1="780.0" x2="246.6" y2="761.7" stroke="#f01414" stroke-width="3.4"/><polygon points="246.6,754.7 249.7,762.7 243.5,762.7" fill="#f01414"/>
<line x1="257.8" y1="780.4" x2="257.8" y2="761.7" stroke="#f01414" stroke-width="3.4"/><polygon points="257.8,754.7 260.9,762.7 254.7,762.7" fill="#f01414"/>
<line x1="269.1" y1="780.9" x2="269.1" y2="761.7" stroke="#f01414" stroke-width="3.4"/><polygon points="269.1,754.7 272.2,762.7 266.0,762.7" fill="#f01414"/>
<line x1="280.3" y1="781.3" x2="280.3" y2="761.6" stroke="#f01414" stroke-width="3.4"/><polygon points="280.3,754.6 283.4,762.6 277.2,762.6" fill="#f01414"/>
<line x1="291.6" y1="781.7" x2="291.6" y2="761.5" stroke="#f01414" stroke-width="3.4"/><polygon points="291.6,754.5 294.7,762.5 288.5,762.5" fill="#f01414"/>
<line x1="302.9" y1="782.1" x2="302.9" y2="761.4" stroke="#f01414" stroke-width="3.4"/><polygon points="302.9,754.4 306.0,762.4 299.8,762.4" fill="#f01414"/>
<line x1="314.1" y1="782.5" x2="314.1" y2="761.3" stroke="#f01414" stroke-width="3.4"/><polygon points="314.1,754.3 317.2,762.3 311.0,762.3" fill="#f01414"/>
<line x1="325.4" y1="782.9" x2="325.4" y2="761.3" stroke="#f01414" stroke-width="3.4"/><polygon points="325.4,754.3 328.5,762.3 322.3,762.3" fill="#f01414"/>
<line x1="336.7" y1="783.3" x2="336.7" y2="761.3" stroke="#f01414" stroke-width="3.4"/><polygon points="336.7,754.3 339.8,762.3 333.6,762.3" fill="#f01414"/>
<line x1="347.9" y1="783.7" x2="347.9" y2="761.3" stroke="#f01414" stroke-width="3.4"/><polygon points="347.9,754.3 351.0,762.3 344.8,762.3" fill="#f01414"/>
<line x1="359.2" y1="784.1" x2="359.2" y2="761.2" stroke="#f01414" stroke-width="3.4"/><polygon points="359.2,754.2 362.3,762.2 356.1,762.2" fill="#f01414"/>
<line x1="370.4" y1="784.4" x2="370.4" y2="761.2" stroke="#f01414" stroke-width="3.4"/><polygon points="370.4,754.2 373.5,762.2 367.3,762.2" fill="#f01414"/>
<line x1="381.7" y1="784.8" x2="381.7" y2="761.1" stroke="#f01414" stroke-width="3.4"/><polygon points="381.7,754.1 384.8,762.1 378.6,762.1" fill="#f01414"/>
<line x1="393.0" y1="785.1" x2="393.0" y2="761.0" stroke="#f01414" stroke-width="3.4"/><polygon points="393.0,754.0 396.1,762.0 389.9,762.0" fill="#f01414"/>
<line x1="404.2" y1="785.5" x2="404.2" y2="760.8" stroke="#f01414" stroke-width="3.4"/><polygon points="404.2,753.8 407.3,761.8 401.1,761.8" fill="#f01414"/>
<line x1="415.5" y1="785.8" x2="415.5" y2="760.6" stroke="#f01414" stroke-width="3.4"/><polygon points="415.5,753.6 418.6,761.6 412.4,761.6" fill="#f01414"/>
<line x1="426.8" y1="786.1" x2="426.8" y2="760.4" stroke="#f01414" stroke-width="3.4"/><polygon points="426.8,753.4 429.9,761.4 423.7,761.4" fill="#f01414"/>
<line x1="438.0" y1="786.5" x2="438.0" y2="760.1" stroke="#f01414" stroke-width="3.4"/><polygon points="438.0,753.1 441.1,761.1 434.9,761.1" fill="#f01414"/>
<line x1="449.3" y1="786.8" x2="449.3" y2="759.9" stroke="#f01414" stroke-width="3.4"/><polygon points="449.3,752.9 452.4,760.9 446.2,760.9" fill="#f01414"/>
<line x1="460.5" y1="787.2" x2="460.5" y2="759.8" stroke="#f01414" stroke-width="3.4"/><polygon points="460.5,752.8 463.6,760.8 457.4,760.8" fill="#f01414"/>
<line x1="471.8" y1="787.5" x2="471.8" y2="759.6" stroke="#f01414" stroke-width="3.4"/><polygon points="471.8,752.6 474.9,760.6 468.7,760.6" fill="#f01414"/>
<line x1="483.1" y1="788.6" x2="483.1" y2="759.6" stroke="#f01414" stroke-width="3.4"/><polygon points="483.1,752.6 486.2,760.6 480.0,760.6" fill="#f01414"/>
<line x1="494.3" y1="789.7" x2="494.3" y2="759.5" stroke="#f01414" stroke-width="3.4"/><polygon points="494.3,752.5 497.4,760.5 491.2,760.5" fill="#f01414"/>
<line x1="505.6" y1="790.7" x2="505.6" y2="759.5" stroke="#f01414" stroke-width="3.4"/><polygon points="505.6,752.5 508.7,760.5 502.5,760.5" fill="#f01414"/>
<line x1="516.9" y1="791.6" x2="516.9" y2="759.5" stroke="#f01414" stroke-width="3.4"/><polygon points="516.9,752.5 520.0,760.5 513.8,760.5" fill="#f01414"/>
<line x1="528.1" y1="792.6" x2="528.1" y2="759.5" stroke="#f01414" stroke-width="3.4"/><polygon points="528.1,752.5 531.2,760.5 525.0,760.5" fill="#f01414"/>
<line x1="539.4" y1="793.5" x2="539.4" y2="759.5" stroke="#f01414" stroke-width="3.4"/><polygon points="539.4,752.5 542.5,760.5 536.3,760.5" fill="#f01414"/>
<line x1="550.7" y1="794.4" x2="550.7" y2="759.5" stroke="#f01414" stroke-width="3.4"/><polygon points="550.7,752.5 553.8,760.5 547.6,760.5" fill="#f01414"/>
<line x1="561.9" y1="795.4" x2="561.9" y2="759.6" stroke="#f01414" stroke-width="3.4"/><polygon points="561.9,752.6 565.0,760.6 558.8,760.6" fill="#f01414"/>
<line x1="573.2" y1="796.3" x2="573.2" y2="759.7" stroke="#f01414" stroke-width="3.4"/><polygon points="573.2,752.7 576.3,760.7 570.1,760.7" fill="#f01414"/>
<line x1="584.4" y1="797.2" x2="584.4" y2="759.9" stroke="#f01414" stroke-width="3.4"/><polygon points="584.4,752.9 587.5,760.9 581.3,760.9" fill="#f01414"/>
<line x1="595.7" y1="798.2" x2="595.7" y2="760.1" stroke="#f01414" stroke-width="3.4"/><polygon points="595.7,753.1 598.8,761.1 592.6,761.1" fill="#f01414"/>
<line x1="607.0" y1="799.1" x2="607.0" y2="760.4" stroke="#f01414" stroke-width="3.4"/><polygon points="607.0,753.4 610.1,761.4 603.9,761.4" fill="#f01414"/>
<line x1="617.8" y1="800.0" x2="618.2" y2="760.8" stroke="#f01414" stroke-width="3.4"/><polygon points="618.2,753.8 621.3,761.8 615.1,761.7" fill="#f01414"/>
<line x1="628.5" y1="801.0" x2="629.3" y2="761.2" stroke="#f01414" stroke-width="3.4"/><polygon points="629.5,754.2 632.4,762.3 626.2,762.1" fill="#f01414"/>
<line x1="639.2" y1="801.9" x2="640.5" y2="761.7" stroke="#f01414" stroke-width="3.4"/><polygon points="640.8,754.7 643.6,762.8 637.4,762.6" fill="#f01414"/>
<line x1="649.9" y1="802.8" x2="651.7" y2="762.2" stroke="#f01414" stroke-width="3.4"/><polygon points="652.0,755.2 654.8,763.3 648.6,763.0" fill="#f01414"/>
<line x1="660.6" y1="803.8" x2="662.9" y2="762.7" stroke="#f01414" stroke-width="3.4"/><polygon points="663.3,755.7 665.9,763.9 659.7,763.5" fill="#f01414"/>
<line x1="671.3" y1="804.7" x2="674.1" y2="763.3" stroke="#f01414" stroke-width="3.4"/><polygon points="674.5,756.3 677.1,764.5 670.9,764.1" fill="#f01414"/>
<line x1="682.1" y1="805.7" x2="685.3" y2="763.9" stroke="#f01414" stroke-width="3.4"/><polygon points="685.8,756.9 688.3,765.1 682.1,764.6" fill="#f01414"/>
<line x1="693.0" y1="806.9" x2="696.5" y2="764.5" stroke="#f01414" stroke-width="3.4"/><polygon points="697.1,757.5 699.5,765.8 693.3,765.2" fill="#f01414"/>
<line x1="703.9" y1="808.0" x2="707.7" y2="765.2" stroke="#f01414" stroke-width="3.4"/><polygon points="708.3,758.2 710.7,766.5 704.5,765.9" fill="#f01414"/>
<line x1="714.8" y1="809.2" x2="718.9" y2="765.9" stroke="#f01414" stroke-width="3.4"/><polygon points="719.6,758.9 721.9,767.2 715.8,766.6" fill="#f01414"/>
<line x1="727.2" y1="809.2" x2="735.6" y2="745.7" stroke="#f01414" stroke-width="3.4"/>
<line x1="732.3" y1="811.7" x2="745" y2="740.6" stroke="#f01414" stroke-width="3.4"/>
<polygon points="734.2,756 729.5,765 737,766" fill="#f01414"/>
<polygon points="742,757 737.5,766 745,767" fill="#f01414"/>

<line x1="335.5" y1="866.3" x2="385.8" y2="866.3" stroke="#222" stroke-width="1.7" stroke-dasharray="8.5 12"/>
<line x1="385.8" y1="866.3" x2="385.8" y2="1092" stroke="#222" stroke-width="1.6" stroke-dasharray="8.5 12"/>
<line x1="335.5" y1="1092" x2="335.5" y2="895" stroke="#16b016" stroke-width="3"/>
<polygon points="335.5,866.3 326.6,902.3 344.4,902.3" fill="#16b016"/>
<line x1="336" y1="1092" x2="379" y2="895" stroke="#f0148a" stroke-width="3"/>
<polygon points="385,867.4 370.5,899.5 385.5,903" fill="#f0148a"/>
<line x1="336" y1="1092.6" x2="352" y2="1092.6" stroke="#f5841a" stroke-width="3"/>
<polygon points="385.8,1092.6 349,1085.8 349,1099.4" fill="#f5841a"/>
<line x1="81" y1="1093.3" x2="292" y2="1093.3" stroke="#111111" stroke-width="1.6"/>
<polygon points="310.5,1093.3 290,1087.8 290,1098.8" fill="#111111"/>

<text x="460.9" y="580.6" fill="#0b0be6" stroke="#0b0be6" stroke-width="0.45" font-size="27.5" textLength="187.5" lengthAdjust="spacingAndGlyphs">low pressure</text>
<text x="261.8" y="816" fill="#f01414" stroke="#f01414" stroke-width="0.45" font-size="27" textLength="197" lengthAdjust="spacingAndGlyphs">high pressure</text>
<text x="273.4" y="743" fill="#111111" stroke="#111111" stroke-width="0.45" font-size="38.4" textLength="71" lengthAdjust="spacingAndGlyphs">E 64</text>
<text x="287.9" y="981" fill="#16b016" stroke="#16b016" stroke-width="0.45" font-size="27.5" textLength="38" lengthAdjust="spacingAndGlyphs">lift</text>
<text x="431.4" y="965.3" fill="#f0148a" stroke="#f0148a" stroke-width="0.45" font-size="27" textLength="64.5" lengthAdjust="spacingAndGlyphs">total</text>
<text x="431.4" y="1002" fill="#f0148a" stroke="#f0148a" stroke-width="0.45" font-size="27" textLength="124.5" lengthAdjust="spacingAndGlyphs">pressure</text>
<text x="431.4" y="1035" fill="#f0148a" stroke="#f0148a" stroke-width="0.45" font-size="27" textLength="72.5" lengthAdjust="spacingAndGlyphs">force</text>
<text x="341.3" y="1131.7" fill="#f5841a" stroke="#f5841a" stroke-width="0.45" font-size="27" textLength="66.5" lengthAdjust="spacingAndGlyphs">drag</text>
<text x="110.8" y="1079" fill="#111111" stroke="#111111" stroke-width="0.45" font-size="26.7" textLength="166" lengthAdjust="spacingAndGlyphs">direction of</text>
<text x="110.8" y="1128.2" fill="#111111" stroke="#111111" stroke-width="0.45" font-size="26.7" textLength="152" lengthAdjust="spacingAndGlyphs">onset flow</text>
</svg>
</body></html>
